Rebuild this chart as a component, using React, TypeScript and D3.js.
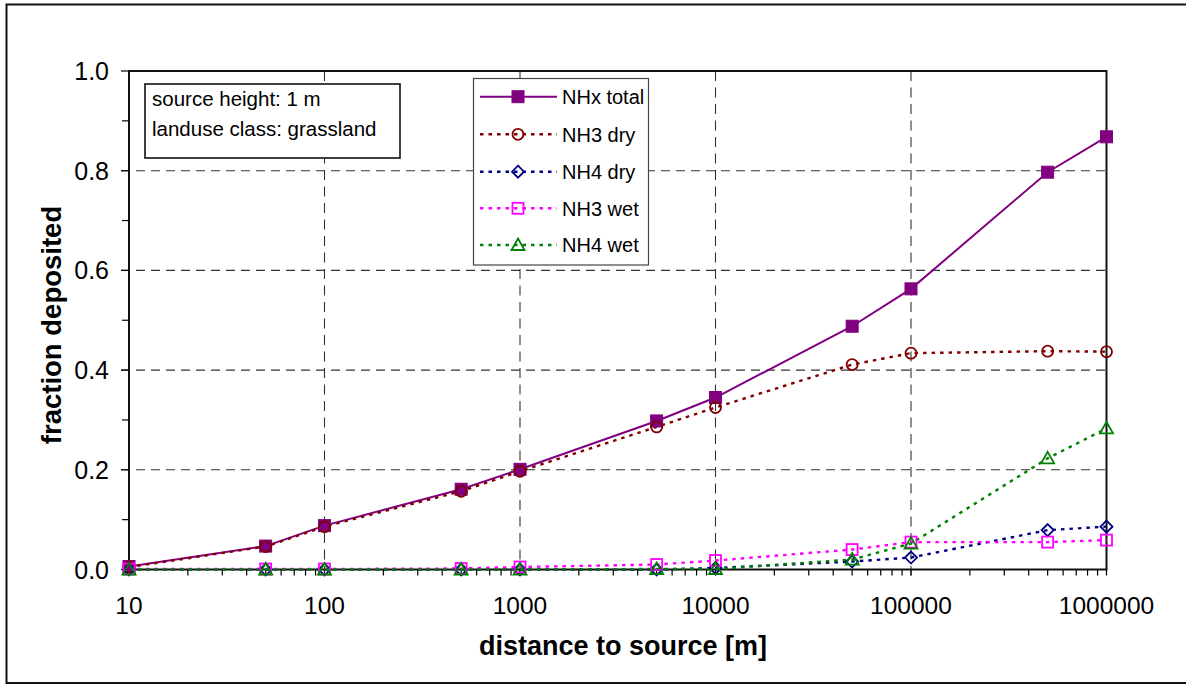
import React from 'react';
import * as d3 from 'd3';

// Distances from the source (m) and deposited fractions per component
const distances = [10, 50, 100, 500, 1000, 5000, 10000, 50000, 100000, 500000, 1000000];
const nhxTotal = [0.006, 0.047, 0.088, 0.161, 0.201, 0.298, 0.345, 0.488, 0.563, 0.797, 0.868];
const nh3Dry = [0.005, 0.046, 0.086, 0.157, 0.197, 0.286, 0.325, 0.411, 0.434, 0.438, 0.437];
const nh4Dry = [0, 0, 0, 0, 0, 0, 0.003, 0.016, 0.024, 0.079, 0.086];
const nh3Wet = [0.001, 0.001, 0.001, 0.002, 0.005, 0.01, 0.018, 0.04, 0.055, 0.055, 0.059];
const nh4Wet = [0, 0, 0, 0, 0, 0.001, 0.001, 0.02, 0.052, 0.223, 0.283];

const seriesNames = ['NHx total', 'NH3 dry', 'NH4 dry', 'NH3 wet', 'NH4 wet'];
const xTickValues = [10, 100, 1000, 10000, 100000, 1000000];
const yTickValues = [0, 0.2, 0.4, 0.6, 0.8, 1.0];
const infoLines = ['source height: 1 m', 'landuse class: grassland'];

type MarkerKind = 'squareFilled' | 'circle' | 'diamond' | 'square' | 'triangle';

const seriesStyles: { color: string; dash: string | null; marker: MarkerKind }[] = [
  { color: '#800080', dash: null, marker: 'squareFilled' },
  { color: '#800000', dash: '3.5,5', marker: 'circle' },
  { color: '#000080', dash: '3.5,5', marker: 'diamond' },
  { color: '#FF00FF', dash: '3.5,5', marker: 'square' },
  { color: '#008000', dash: '3.5,5', marker: 'triangle' },
];

const W = 1186;
const H = 684;
const plot = { left: 129, right: 1106.5, top: 71, bottom: 569.5 };
const FONT = '"Liberation Sans", Arial, Helvetica, sans-serif';

function Marker({ kind, x, y, color }: { kind: MarkerKind; x: number; y: number; color: string }) {
  const sw = 1.8;
  switch (kind) {
    case 'squareFilled':
      return <rect x={x - 6} y={y - 6} width={12} height={12} fill={color} stroke={color} strokeWidth={1} />;
    case 'circle':
      return <circle cx={x} cy={y} r={5.5} fill="none" stroke={color} strokeWidth={sw} />;
    case 'diamond':
      return (
        <path
          d={`M${x},${y - 6}L${x + 6},${y}L${x},${y + 6}L${x - 6},${y}Z`}
          fill="none"
          stroke={color}
          strokeWidth={sw}
        />
      );
    case 'square':
      return <rect x={x - 5.5} y={y - 5.5} width={11} height={11} fill="none" stroke={color} strokeWidth={sw} />;
    case 'triangle':
      return (
        <path
          d={`M${x},${y - 6.5}L${x + 6.5},${y + 5}L${x - 6.5},${y + 5}Z`}
          fill="none"
          stroke={color}
          strokeWidth={sw}
        />
      );
  }
}

export default function App() {
  const x = d3.scaleLog().domain([10, 1000000]).range([plot.left, plot.right]);
  const y = d3.scaleLinear().domain([0, 1]).range([plot.bottom, plot.top]);

  const allSeries = [nhxTotal, nh3Dry, nh4Dry, nh3Wet, nh4Wet];
  const line = d3
    .line<[number, number]>()
    .x((d) => x(d[0]))
    .y((d) => y(d[1]));

  // minor x ticks: 2..9 within each decade
  const minorX: number[] = [];
  for (let dec = 10; dec < 1000000; dec *= 10) {
    for (let m = 2; m <= 9; m++) minorX.push(dec * m);
  }
  const minorY = d3.range(0.1, 1.0, 0.2);

  const gridY = yTickValues.filter((v) => v > 0 && v < 1);
  const gridX = xTickValues.filter((v) => v > 10 && v < 1000000);

  const legend = { x: 473.5, y: 78.5, w: 175, h: 186.5 };
  const legendRows = [96.7, 134.3, 171.7, 208.3, 245];

  return (
    <svg
      width={W}
      height={H}
      style={{ position: 'absolute', left: 0, top: 0, background: '#fff' }}
      fontFamily={FONT}
    >
      <rect x={0} y={0} width={W} height={H} fill="#fff" />
      {/* outer chart border */}
      <rect x={6.5} y={4.5} width={1190} height={678.5} fill="none" stroke="#111" strokeWidth={2} />

      {/* grid */}
      {gridY.map((v) => (
        <line
          key={'gy' + v}
          x1={plot.left - 8}
          x2={plot.right}
          y1={y(v)}
          y2={y(v)}
          stroke="#333"
          strokeWidth={1.1}
          strokeDasharray="9,6"
        />
      ))}
      {gridX.map((v) => (
        <line
          key={'gx' + v}
          x1={x(v)}
          x2={x(v)}
          y1={plot.top}
          y2={plot.bottom + 6}
          stroke="#333"
          strokeWidth={1.1}
          strokeDasharray="10,6.5"
        />
      ))}

      {/* axis ticks */}
      {yTickValues.map((v) => (
        <line key={'ty' + v} x1={plot.left - 8} x2={plot.left} y1={y(v)} y2={y(v)} stroke="#000" strokeWidth={1.2} />
      ))}
      {minorY.map((v) => (
        <line key={'my' + v} x1={plot.left - 7} x2={plot.left} y1={y(v)} y2={y(v)} stroke="#000" strokeWidth={1.2} />
      ))}
      {xTickValues.map((v) => (
        <line key={'tx' + v} x1={x(v)} x2={x(v)} y1={plot.bottom} y2={plot.bottom + 6} stroke="#000" strokeWidth={1.2} />
      ))}
      {minorX.map((v) => (
        <line key={'mx' + v} x1={x(v)} x2={x(v)} y1={plot.bottom} y2={plot.bottom + 6} stroke="#000" strokeWidth={1.2} />
      ))}

      {/* plot frame */}
      <rect
        x={plot.left}
        y={plot.top}
        width={plot.right - plot.left}
        height={plot.bottom - plot.top}
        fill="none"
        stroke="#111"
        strokeWidth={2}
      />

      {/* tick labels */}
      {yTickValues.map((v) => (
        <text key={'ly' + v} x={109} y={y(v)} dy="0.36em" textAnchor="end" fontSize={25} fill="#000">
          {d3.format('.1f')(v)}
        </text>
      ))}
      {xTickValues.map((v) => (
        <text key={'lx' + v} x={x(v)} y={614} textAnchor="middle" fontSize={24.5} fill="#000">
          {String(v)}
        </text>
      ))}

      {/* axis titles */}
      <text x={623} y={655} textAnchor="middle" fontSize={27} fontWeight="bold" fill="#000">
        distance to source [m]
      </text>
      <text
        transform={`translate(61,325) rotate(-90)`}
        textAnchor="middle"
        fontSize={27.5}
        fontWeight="bold"
        fill="#000"
      >
        fraction deposited
      </text>

      {/* series lines */}
      {allSeries.map((vals, i) => (
        <path
          key={'line' + i}
          d={line(distances.map((d, j) => [d, vals[j]] as [number, number])) || ''}
          fill="none"
          stroke={seriesStyles[i].color}
          strokeWidth={seriesStyles[i].dash ? 2.4 : 2}
          strokeDasharray={seriesStyles[i].dash || undefined}
        />
      ))}
      {/* series markers */}
      {allSeries.map((vals, i) => (
        <g key={'marks' + i}>
          {distances.map((d, j) => (
            <Marker key={j} kind={seriesStyles[i].marker} x={x(d)} y={y(vals[j])} color={seriesStyles[i].color} />
          ))}
        </g>
      ))}

      {/* info box */}
      <rect x={145} y={84} width={255} height={74} fill="#fff" stroke="#111" strokeWidth={1.6} />
      {infoLines.map((t, i) => (
        <text key={'info' + i} x={152} y={106 + i * 30} fontSize={20.5} fill="#000">
          {t}
        </text>
      ))}

      {/* legend */}
      <rect x={legend.x} y={legend.y} width={legend.w} height={legend.h} fill="#fff" stroke="#444" strokeWidth={1.2} />
      {seriesNames.map((name, i) => {
        const ry = legendRows[i];
        const st = seriesStyles[i];
        return (
          <g key={'leg' + i}>
            <line
              x1={480}
              x2={557}
              y1={ry}
              y2={ry}
              stroke={st.color}
              strokeWidth={st.dash ? 2.4 : 2}
              strokeDasharray={st.dash || undefined}
            />
            <Marker kind={st.marker} x={518} y={ry} color={st.color} />
            <text x={562} y={ry} dy="0.36em" fontSize={20} fill="#000">
              {name}
            </text>
          </g>
        );
      })}
    </svg>
  );
}
